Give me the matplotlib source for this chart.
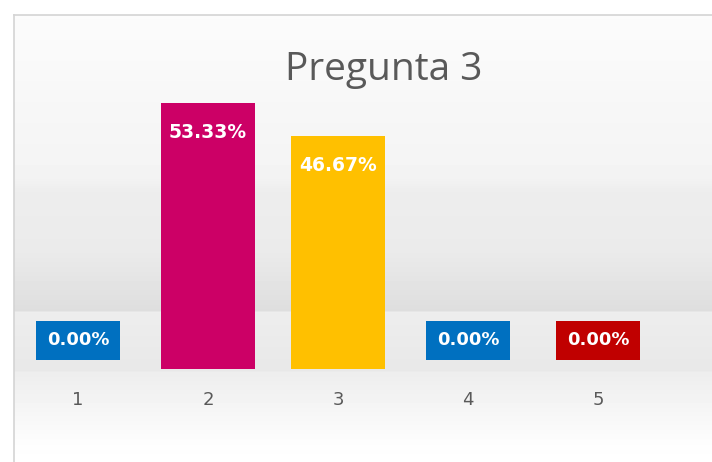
import numpy as np
import matplotlib.pyplot as plt

categorias = ["1", "2", "3", "4", "5"]
valores = [0.0, 53.33, 46.67, 0.0, 0.0]
colores = ["#0070C0", "#CC0066", "#FFC000", "#0070C0", "#C00000"]
titulo = "Pregunta 3"

W, H = 712, 462
fig = plt.figure(figsize=(W / 100, H / 100), dpi=100)

# fondo con degradado gris (efecto de sombra tipo Excel)
bg = fig.add_axes([0, 0, 1, 1])
bg.set_xlim(0, W)
bg.set_ylim(H, 0)
bg.axis("off")
stops = [(0, 1.0), (15, 0.985), (175, 0.955), (190, 0.93), (250, 0.92),
         (310, 0.87), (312, 0.93), (370, 0.91), (372, 0.93), (440, 0.99), (462, 1.0)]
ys = np.arange(H)
g = np.interp(ys, [s[0] for s in stops], [s[1] for s in stops])
img = np.repeat(g[:, None], W, axis=1)
img[:15, :] = 1.0
img[:, :14] = 1.0
bg.imshow(img, cmap="gray", vmin=0, vmax=1, extent=[0, W, H, 0], aspect="auto")
bg.plot([14, W], [15, 15], color="#d4d4d4", lw=1.2)
bg.plot([14, 14], [15, H], color="#d4d4d4", lw=1.2)

# grafico de barras
ax = fig.add_axes([13 / W, 93 / H, 650 / W, 300 / H])
ax.patch.set_alpha(0)
x = np.arange(1, len(categorias) + 1)
ax.bar(x, valores, width=0.72, color=colores)
ax.set_xlim(0.5, 5.5)
ax.set_ylim(0, 60.1)
ax.set_xticks(x)
ax.set_xticklabels(categorias, fontsize=13, color="#595959", family="DejaVu Sans")
ax.tick_params(axis="x", length=0, pad=16)
ax.set_yticks([])
for s in ax.spines.values():
    s.set_visible(False)

for xi, v, c in zip(x, valores, colores):
    txt = f"{v:.2f}%"
    if v > 0:
        ax.text(xi, v - 6.0, txt, ha="center", va="center", color="white",
                fontsize=13.5, fontweight="bold")
    else:
        ax.text(xi, 5.8, txt, ha="center", va="center", color="white",
                fontsize=13, fontweight="bold",
                bbox=dict(boxstyle="square,pad=0.58", fc=c, ec="none"))

fig.text(384 / W, 1 - 70 / H, titulo, ha="center", va="center",
         fontsize=28, color="#595959", family="Open Sans")

fig.savefig("out.png", dpi=100)
